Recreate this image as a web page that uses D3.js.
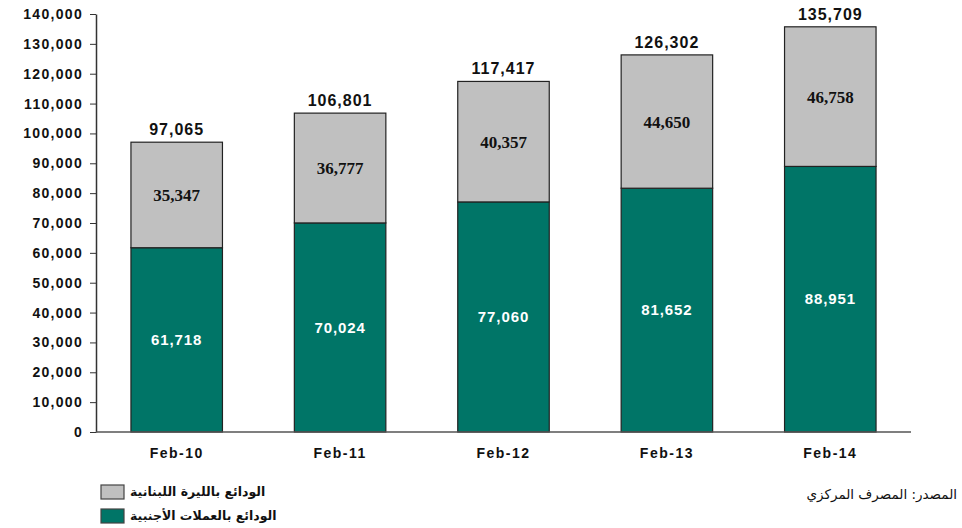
<!DOCTYPE html>
<html>
<head>
<meta charset="utf-8">
<script src="https://cdn.jsdelivr.net/npm/d3@7"></script>
<style>
  body { margin: 0; background: #fff; }
  svg { display: block; }
  .axis text { font-family: "Liberation Sans", Arial, sans-serif; font-weight: bold; }
</style>
</head>
<body>
<div id="container"></div>
<script>
var width = 962,
    height = 528;

var categories = ['Feb-10', 'Feb-11', 'Feb-12', 'Feb-13', 'Feb-14'];
var foreignDeposits = [61718, 70024, 77060, 81652, 88951];
var lbpDeposits = [35347, 36777, 40357, 44650, 46758];
var totals = [97065, 106801, 117417, 126302, 135709];
var yTicks = [0, 10000, 20000, 30000, 40000, 50000, 60000, 70000, 80000, 90000, 100000, 110000, 120000, 130000, 140000];
var legendLabels = ['الودائع بالليرة اللبنانية', 'الودائع بالعملات الأجنبية'];
var sourceText = 'المصدر: المصرف المركزي';

var grey = '#c0c0c0',
    teal = '#007567';

var svg = d3.select('#container').append('svg')
    .attr('width', width)
    .attr('height', height);

var x = d3.scaleBand()
    .domain(categories)
    .range([95, 912])
    .paddingInner(0.44)
    .paddingOuter(0.22);

var y = d3.scaleLinear()
    .domain([0, 140000])
    .range([432, 14]);

var fmt = d3.format(',');

// y axis
var yAxis = svg.append('g')
    .attr('class', 'axis')
    .attr('transform', 'translate(96,0)')
    .call(d3.axisLeft(y).tickValues(yTicks).tickFormat(fmt).tickSize(6).tickSizeOuter(0));
yAxis.select('.domain').attr('stroke', '#333').attr('stroke-width', 1.5);
yAxis.selectAll('.tick line').attr('stroke', '#333');
yAxis.selectAll('.tick text')
    .attr('x', -13)
    .style('font-size', '14px')
    .style('letter-spacing', '1.3px')
    .attr('fill', '#111');

// stacked bars
var rows = categories.map(function(c, i) {
  return { cat: c, foreign: foreignDeposits[i], lbp: lbpDeposits[i], total: totals[i] };
});

var g = svg.append('g');

g.selectAll('.bar-foreign')
  .data(rows)
  .enter().append('rect')
    .attr('class', 'bar-foreign')
    .attr('x', function(d) { return x(d.cat); })
    .attr('width', x.bandwidth())
    .attr('y', function(d) { return y(d.foreign); })
    .attr('height', function(d) { return y(0) - y(d.foreign); })
    .attr('fill', teal)
    .attr('stroke', '#222')
    .attr('stroke-width', 1.2);

g.selectAll('.bar-lbp')
  .data(rows)
  .enter().append('rect')
    .attr('class', 'bar-lbp')
    .attr('x', function(d) { return x(d.cat); })
    .attr('width', x.bandwidth())
    .attr('y', function(d) { return y(d.foreign + d.lbp); })
    .attr('height', function(d) { return y(d.foreign) - y(d.foreign + d.lbp); })
    .attr('fill', grey)
    .attr('stroke', '#222')
    .attr('stroke-width', 1.2);

// labels inside teal
g.selectAll('.lbl-foreign')
  .data(rows)
  .enter().append('text')
    .attr('x', function(d) { return x(d.cat) + x.bandwidth() / 2; })
    .attr('y', function(d) { return y(d.foreign / 2); })
    .attr('dy', '0.35em')
    .attr('text-anchor', 'middle')
    .attr('fill', '#fff')
    .style('font-family', '"Liberation Sans", Arial, sans-serif')
    .style('font-weight', 'bold')
    .style('font-size', '15px')
    .style('letter-spacing', '0.9px')
    .text(function(d) { return fmt(d.foreign); });

// labels inside grey
g.selectAll('.lbl-lbp')
  .data(rows)
  .enter().append('text')
    .attr('x', function(d) { return x(d.cat) + x.bandwidth() / 2; })
    .attr('y', function(d) { return y(d.foreign + d.lbp / 2); })
    .attr('dy', '0.35em')
    .attr('text-anchor', 'middle')
    .attr('fill', '#111')
    .style('font-family', '"Liberation Serif", "Times New Roman", serif')
    .style('font-weight', 'bold')
    .style('font-size', '17px')
    .text(function(d) { return fmt(d.lbp); });

// totals
g.selectAll('.lbl-total')
  .data(rows)
  .enter().append('text')
    .attr('x', function(d) { return x(d.cat) + x.bandwidth() / 2; })
    .attr('y', function(d) { return y(d.total) - 7; })
    .attr('text-anchor', 'middle')
    .attr('fill', '#111')
    .style('font-family', '"Liberation Sans", Arial, sans-serif')
    .style('font-weight', 'bold')
    .style('font-size', '16px')
    .style('letter-spacing', '1px')
    .text(function(d) { return fmt(d.total); });

// x axis
var xAxis = svg.append('g')
    .attr('class', 'axis')
    .attr('transform', 'translate(0,432)')
    .call(d3.axisBottom(x).tickSize(0).tickSizeOuter(0));
xAxis.select('.domain').attr('stroke', '#555').attr('stroke-width', 1.5)
    .attr('d', 'M96,0H911');
xAxis.selectAll('.tick text')
    .attr('y', 21)
    .attr('dy', '0.35em')
    .style('font-size', '14px')
    .style('letter-spacing', '1.5px')
    .attr('fill', '#111');

// legend
var legend = svg.append('g').attr('transform', 'translate(101,485)');
var legendColors = [grey, teal];
legend.selectAll('rect')
  .data(legendLabels)
  .enter().append('rect')
    .attr('x', 0)
    .attr('y', function(d, i) { return i * 24; })
    .attr('width', 23)
    .attr('height', 14)
    .attr('fill', function(d, i) { return legendColors[i]; })
    .attr('stroke', '#444')
    .attr('stroke-width', 1.2);
legend.selectAll('text')
  .data(legendLabels)
  .enter().append('text')
    .attr('x', 29)
    .attr('y', function(d, i) { return i * 24 + 7; })
    .attr('dy', '0.35em')
    .attr('text-anchor', 'start')
    .attr('fill', '#111')
    .style('font-family', '"DejaVu Sans", sans-serif')
    .style('font-weight', 'bold')
    .style('font-size', '12.5px')
    .text(function(d) { return d; });

// source
svg.append('text')
    .attr('x', 957)
    .attr('y', 499)
    .attr('text-anchor', 'end')
    .attr('fill', '#111')
    .style('font-family', '"DejaVu Sans", sans-serif')
    .style('font-size', '13.5px')
    .text(sourceText);
</script>
</body>
</html>
